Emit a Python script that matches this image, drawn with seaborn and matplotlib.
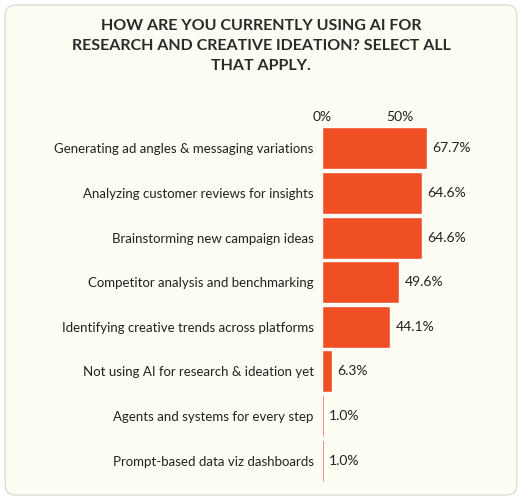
import matplotlib.pyplot as plt
import seaborn as sns
import pandas as pd

categories = [
    "Generating ad angles & messaging variations",
    "Analyzing customer reviews for insights",
    "Brainstorming new campaign ideas",
    "Competitor analysis and benchmarking",
    "Identifying creative trends across platforms",
    "Not using AI for research & ideation yet",
    "Agents and systems for every step",
    "Prompt-based data viz dashboards",
]
values = [67.7, 64.6, 64.6, 49.6, 44.1, 6.3, 1.0, 1.0]
tick_labels = ["0%", "50%"]

bg = "#FDFDF3"
bar_color = "#F04E23"
text_color = "#222222"

sns.set_style("white")
plt.rcParams["font.family"] = ["Lato", "DejaVu Sans"]

df = pd.DataFrame({"category": categories, "value": values})

fig = plt.figure(figsize=(5.22, 5.0), dpi=100)
fig.patch.set_facecolor("white")
# rounded panel behind everything
panel = plt.matplotlib.patches.FancyBboxPatch(
    (0.01, 0.01), 0.98, 0.98, boxstyle="round,pad=0,rounding_size=0.02",
    transform=fig.transFigure, facecolor=bg, edgecolor="#E0DDD0", linewidth=1,
    zorder=-10)
fig.patches.append(panel)

ax = fig.add_axes([0.617, 0.034, 0.297, 0.714])
ax.patch.set_alpha(0)
sns.barplot(data=df, x="value", y="category", color=bar_color, width=0.94,
            saturation=1, ax=ax)
ax.set_xlim(0, 100)
ax.set_ylim(7.5, -0.5)
ax.set_xticks([0, 50])
ax.set_xticklabels(tick_labels)
ax.xaxis.tick_top()
ax.tick_params(axis="x", length=0, labelsize=10, colors=text_color, pad=2)
ax.tick_params(axis="y", length=0, labelsize=9.5, colors=text_color, pad=6)
ax.set_xlabel("")
ax.set_ylabel("")
for s in ax.spines.values():
    s.set_visible(False)
for i, v in enumerate(values):
    ax.text(v + 3.5, i, f"{v:.1f}%", va="center", ha="left", fontsize=10,
            color=text_color)

fig.text(0.5, 0.962, "HOW ARE YOU CURRENTLY USING AI FOR\nRESEARCH AND CREATIVE IDEATION? SELECT ALL\nTHAT APPLY.",
         ha="center", va="top", fontsize=11.5, fontweight="bold", color="#2a2a2a",
         linespacing=1.55)

fig.savefig("out.png", dpi=100, facecolor="white")
